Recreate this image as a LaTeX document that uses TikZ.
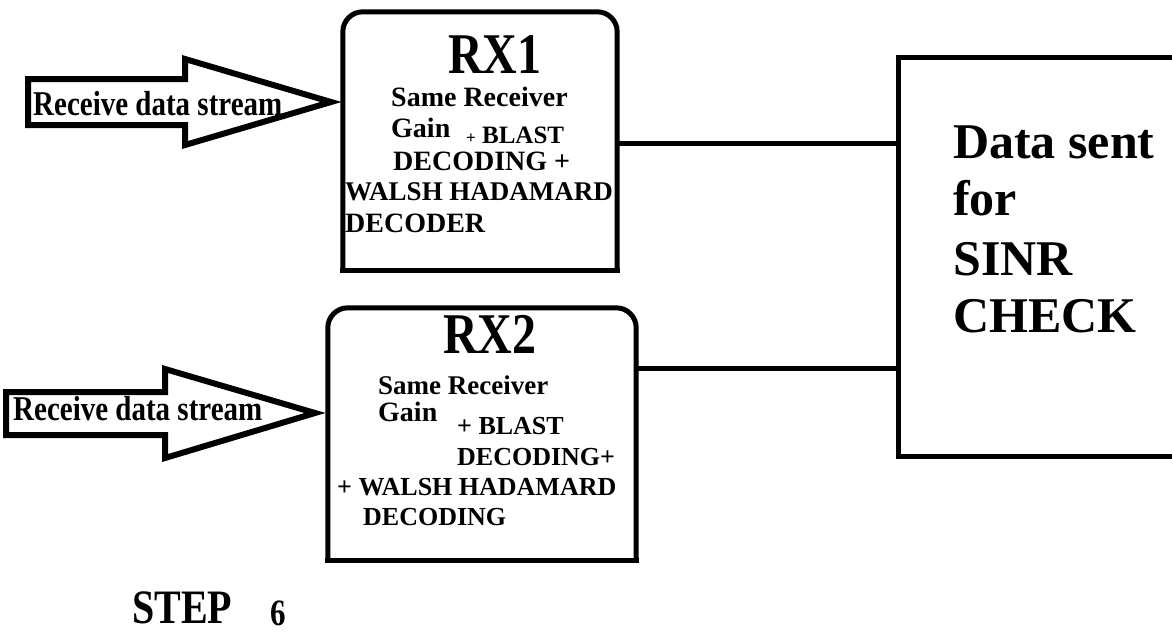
\documentclass[tikz,border=0pt]{standalone}
\usepackage{fontspec}
\setmainfont{Liberation Serif}
\usepackage{graphicx}
\newcommand{\tallt}[1]{\scalebox{1}[1.2]{#1}}
\tikzset{
  boxline/.style={line width=5pt, line cap=rect},
  fatarrow/.style={line width=6pt, line join=miter},
  wire/.style={line width=5pt},
  txt/.style={anchor=base west, inner sep=0pt, font=\bfseries\fontsize{#1}{#1}\selectfont},
  txt/.default=28
}
\begin{document}
\begin{tikzpicture}[x=1pt,y=-1pt]
  \useasboundingbox[fill=white] (0,0) rectangle (1172,633);

  % boxes
  \node[minimum width=274, minimum height=258, inner sep=0pt] (rx1) at (480,141) {};
  \node[minimum width=308, minimum height=252, inner sep=0pt] (rx2) at (482,434) {};
  \node[draw, line width=5pt, minimum width=300, minimum height=399] (sinr) at (1048,256.5) {};

  \foreach \b in {rx1,rx2} {
    \draw[boxline, rounded corners=20pt] (\b.south west) -- (\b.north west) -- (\b.north east) -- (\b.south east);
    \draw[boxline] (\b.south west) -- (\b.south east);
  }

  % connectors
  \coordinate (w1) at (617,143);
  \coordinate (w2) at (636,368);
  \foreach \w in {w1,w2}
    \draw[wire] (\w) -- (\w -| sinr.west);

  % input arrows
  \coordinate (tip1) at (331,102);
  \coordinate (tip2) at (315,413);
  \draw[fatarrow] (tip1) -- ++(-146,-43) -- ++(0,20) -- ++(-157,0) -- ++(0,46) -- ++(157,0) -- ++(0,20) -- cycle;
  \draw[fatarrow] (tip2) -- ++(-150,-44) -- ++(0,23) -- ++(-159,0) -- ++(0,43) -- ++(159,0) -- ++(0,23) -- cycle;
  \node[txt=29] (in1) at (33,115) {\tallt{Receive data stream}};
  \node[txt=29] (in2) at (13,420) {\tallt{Receive data stream}};

  % RX1 text
  \node[txt=48, anchor=base] (rx1t) at (495,73) {\tallt{RX1}};
  \node[txt] (rx1a) at (391,106) {Same Receiver};
  \node[txt] (rx1b) at (391,137) {Gain};
  \node[txt=25] (rx1c) at (466,143) {{\fontsize{17}{17}\selectfont+}\ BLAST};
  \node[txt] (rx1d) at (393,170) {DECODING +};
  \node[txt=27] (rx1e) at (345,200) {WALSH HADAMARD};
  \node[txt] (rx1f) at (345,232) {DECODER};

  % RX2 text
  \node[txt=48, anchor=base] (rx2t) at (490,353) {\tallt{RX2}};
  \node[txt=27] (rx2a) at (378,394) {Same Receiver};
  \node[txt] (rx2b) at (378,421) {Gain};
  \node[txt=26] (rx2c) at (457,434) {+ BLAST};
  \node[txt=26] (rx2d) at (457,465) {DECODING+};
  \node[txt=26] (rx2e) at (337,495) {+ WALSH HADAMARD};
  \node[txt=26] (rx2f) at (363,525) {DECODING};

  % SINR text
  \node[txt=50] (d1) at (953,158) {Data sent};
  \node[txt=50] (d2) at (953,215) {for};
  \node[txt=50] (d3) at (953,275) {SINR};
  \node[txt=50] (d4) at (953,332) {CHECK};

  \node[txt=40] (steplbl) at (132,623) {\tallt{STEP}};
  \node[txt=31] (stepnum) at (270,625) {\tallt{6}};
\end{tikzpicture}
\end{document}
